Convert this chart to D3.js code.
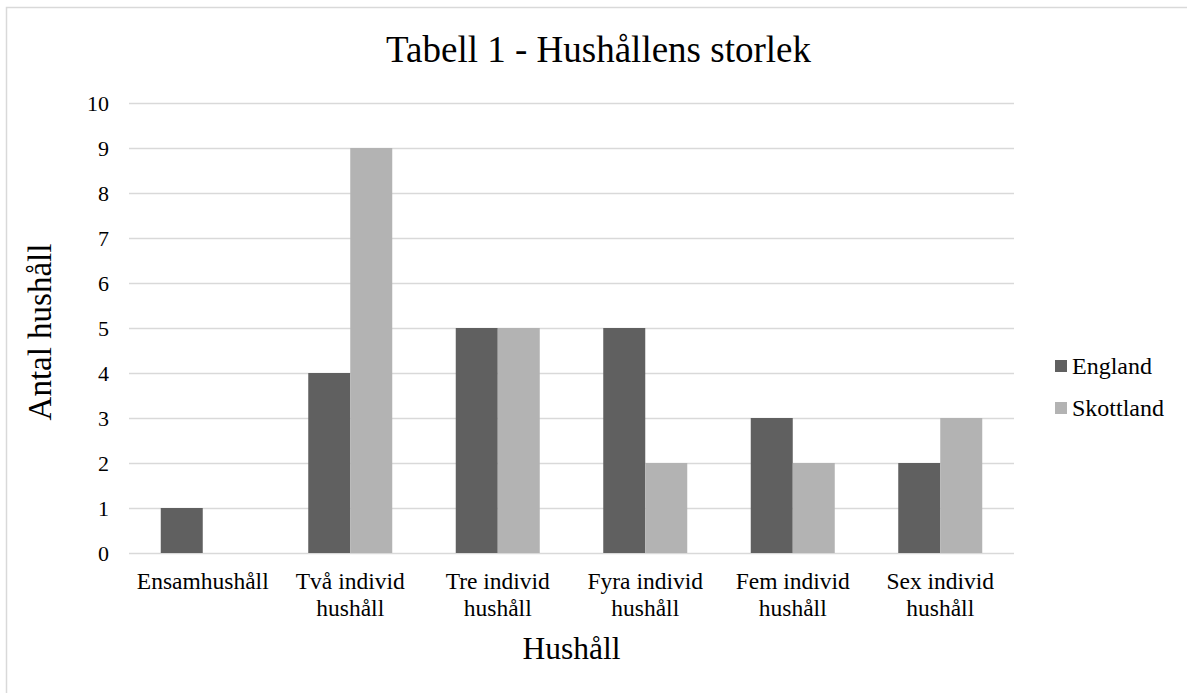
<!DOCTYPE html>
<html>
<head>
<meta charset="utf-8">
<script src="https://cdn.jsdelivr.net/npm/d3@7"></script>
<style>
  body { margin: 0; background: #fff; }
</style>
</head>
<body>
<div id="chart"></div>
<script>
// data
const categories = ["Ensamhushåll", "Två individ hushåll", "Tre individ hushåll",
    "Fyra individ hushåll", "Fem individ hushåll", "Sex individ hushåll"];
const seriesNames = ["England", "Skottland"];
const england = [1, 4, 5, 5, 3, 2];
const skottland = [null, 9, 5, 2, 2, 3];
const yTicks = [0, 1, 2, 3, 4, 5, 6, 7, 8, 9, 10];
const colors = ["#606060", "#b3b3b3"];

const FONT = "'Liberation Serif', 'Times New Roman', Times, serif";
const width = 1187, height = 693;
const margin = { top: 103, right: 173, bottom: 140, left: 129 };

const svg = d3.select('#chart').append('svg')
    .attr('width', width)
    .attr('height', height)
    .attr('font-family', FONT)
    .style('font-family', FONT);

// chart border
svg.append('rect')
    .attr('x', 6.5).attr('y', 7.5)
    .attr('width', 1200).attr('height', 720)
    .attr('fill', 'none')
    .attr('stroke', '#d9d9d9')
    .attr('stroke-width', 1.5);

const x = d3.scaleBand()
    .domain(categories)
    .range([margin.left, width - margin.right]);

const x1 = d3.scaleBand()
    .domain(seriesNames)
    .range([0, x.bandwidth()])
    .paddingInner(0)
    .paddingOuter(0.756);

const y = d3.scaleLinear()
    .domain([0, 10])
    .range([height - margin.bottom, margin.top]);

// gridlines
svg.append('g')
    .selectAll('line')
    .data(yTicks)
    .join('line')
    .attr('x1', margin.left)
    .attr('x2', width - margin.right)
    .attr('y1', d => Math.round(y(d)) + 0.5)
    .attr('y2', d => Math.round(y(d)) + 0.5)
    .attr('stroke', '#d9d9d9')
    .attr('stroke-width', 1.5);

// y tick labels
svg.append('g')
    .selectAll('text')
    .data(yTicks)
    .join('text')
    .attr('x', 109)
    .attr('y', d => y(d) + 8)
    .attr('text-anchor', 'end')
    .style('font-family', FONT)
    .style('font-size', '22px')
    .text(d => d);

// bars
const rows = categories.map((c, i) => ({ cat: c, values: [england[i], skottland[i]] }));

const groups = svg.append('g')
    .selectAll('g')
    .data(rows)
    .join('g')
    .attr('transform', d => 'translate(' + x(d.cat) + ',0)');

groups.selectAll('rect')
    .data(d => d.values.map((v, j) => ({ name: seriesNames[j], value: v, j: j })))
    .join('rect')
    .filter(d => d.value != null)
    .attr('x', d => x1(d.name))
    .attr('width', x1.bandwidth())
    .attr('y', d => y(d.value))
    .attr('height', d => y(0) - y(d.value))
    .attr('fill', d => colors[d.j]);

// x labels (two lines)
const xl = svg.append('g')
    .selectAll('text')
    .data(categories)
    .join('text')
    .attr('x', d => x(d) + x.bandwidth() / 2)
    .attr('y', 589)
    .attr('text-anchor', 'middle')
    .style('font-family', FONT)
    .style('font-size', '23.5px');

xl.each(function (d) {
    const t = d3.select(this);
    const parts = d.split(' ');
    const lines = parts.length > 1 ? [parts.slice(0, -1).join(' '), parts[parts.length - 1]] : [d];
    lines.forEach((l, i) => {
        t.append('tspan')
            .attr('x', x(d) + x.bandwidth() / 2)
            .attr('dy', i === 0 ? 0 : 27)
            .text(l);
    });
});

// title
svg.append('text')
    .attr('x', 598.5)
    .attr('y', 62)
    .attr('text-anchor', 'middle')
    .style('font-family', FONT)
    .style('font-size', '37px')
    .text('Tabell 1 - Hushållens storlek');

// axis titles
svg.append('text')
    .attr('x', (margin.left + width - margin.right) / 2)
    .attr('y', 659)
    .attr('text-anchor', 'middle')
    .style('font-family', FONT)
    .style('font-size', '31.5px')
    .text('Hushåll');

svg.append('text')
    .attr('transform', 'translate(51,332) rotate(-90)')
    .attr('text-anchor', 'middle')
    .style('font-family', FONT)
    .style('font-size', '33px')
    .text('Antal hushåll');

// legend
const legend = svg.append('g')
    .selectAll('g')
    .data(seriesNames)
    .join('g')
    .attr('transform', (d, i) => 'translate(1055,' + (360 + i * 42) + ')');

legend.append('rect')
    .attr('width', 12)
    .attr('height', 12)
    .attr('fill', (d, i) => colors[i]);

legend.append('text')
    .attr('x', 17)
    .attr('y', 14)
    .style('font-family', FONT)
    .style('font-size', '24px')
    .text(d => d);
</script>
</body>
</html>
